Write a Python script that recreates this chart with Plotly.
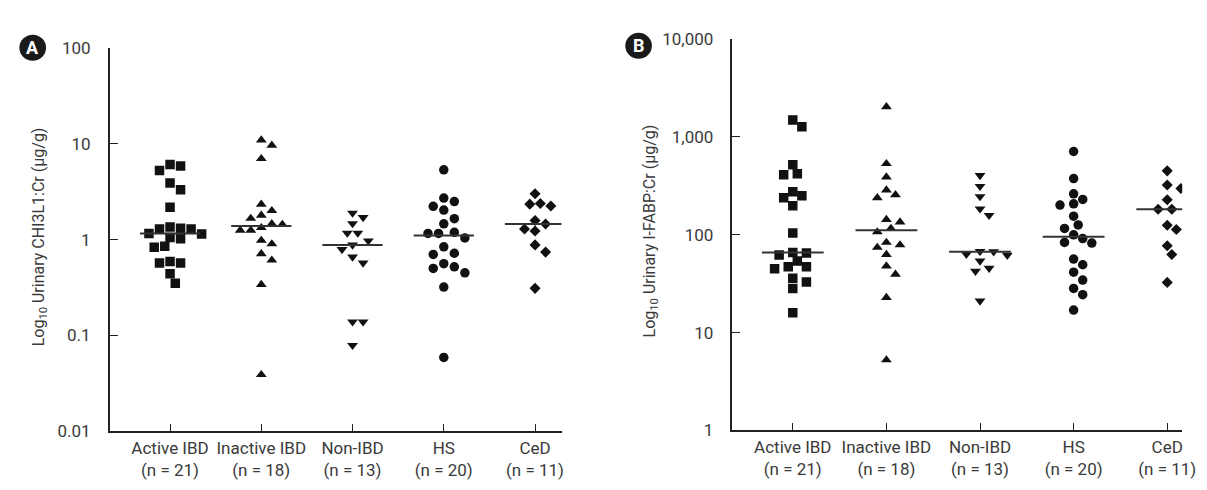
import math
import plotly.graph_objects as go

# ---------------- data ----------------
categories = ["Active IBD", "Inactive IBD", "Non-IBD", "HS", "CeD"]
group_n = [21, 18, 13, 20, 11]

# Panel A: urinary CHI3L1:Cr (ug/g)
chi3l1_active = [5.85, 6.07, 5.25, 3.89, 3.31, 2.17, 1.31, 1.14, 1.16, 1.29, 1.29,
                 1.35, 1.02, 1.05, 0.85, 0.83, 0.57, 0.59, 0.57, 0.44, 0.35]
chi3l1_inactive = [10.9, 9.6, 6.97, 2.33, 1.79, 2.0, 1.66, 1.44, 1.46, 1.25, 1.25,
                   1.33, 0.98, 0.90, 0.71, 0.61, 0.34, 0.039]
chi3l1_nonibd = [1.89, 1.70, 1.47, 1.17, 1.17, 0.97, 0.88, 0.79, 0.66, 0.57,
                 0.139, 0.139, 0.079]
chi3l1_hs = [5.33, 2.71, 2.49, 2.22, 2.03, 1.65, 1.46, 1.19, 1.16, 1.16, 1.04,
             0.84, 0.70, 0.72, 0.52, 0.56, 0.50, 0.45, 0.32, 0.059]
chi3l1_ced = [3.0, 2.38, 2.24, 2.34, 1.45, 1.58, 1.23, 1.29, 0.88, 0.74, 0.31]

# Panel B: urinary I-FABP:Cr (ug/g)
ifabp_active = [1494, 1268, 521, 410, 420, 276, 239, 250, 198, 104, 62, 65, 66,
                54, 47, 47, 45, 33, 36, 28.3, 16.0]
ifabp_inactive = [2032, 533, 389, 286, 239, 256, 135, 143, 116, 107, 83.5, 78.7,
                  74.2, 62.8, 47.9, 39.4, 22.8, 5.26]
ifabp_nonibd = [404, 313, 246, 184, 158, 63.2, 61.9, 67.2, 67.7, 54, 45.5, 42.5, 21.1]
ifabp_hs = [710, 375, 262, 201, 207, 230, 155, 126, 116, 100, 82.2, 83.5, 91.4,
            56.5, 49.4, 41.5, 34.4, 28.3, 24.4, 17.0]
ifabp_ced = [450, 323, 297, 228, 182, 182, 125, 113, 77.4, 62.8, 32.6]

tick_vals_a = [0.01, 0.1, 1, 10, 100]
tick_text_a = ["0.01", "0.1", "1", "10", "100"]
tick_vals_b = [1, 10, 100, 1000, 10000]
tick_text_b = ["1", "10", "100", "1,000", "10,000"]

ytitle_a = "Log<sub>10</sub> Urinary CHI3L1:Cr (µg/g)"
ytitle_b = "Log<sub>10</sub> Urinary I-FABP:Cr (µg/g)"

panel_a = [chi3l1_active, chi3l1_inactive, chi3l1_nonibd, chi3l1_hs, chi3l1_ced]
panel_b = [ifabp_active, ifabp_inactive, ifabp_nonibd, ifabp_hs, ifabp_ced]

# ---------------- layout / style ----------------
W, H = 1207, 490
FONT = "Roboto"
TXT = "#3a3a3a"
INK = "#111111"
symbols = ["square", "triangle-up", "triangle-down", "circle", "diamond"]
sizes = [9.5, 9.5, 9.5, 9.5, 8.5]

# plot areas in pixels: left, right, top, bottom
box_a = (103, 560, 31, 431)
box_b = (733, 1188, 22, 430)
xr_a = [-0.66, 4.29]
xr_b = [-0.644, 4.16]
yr_a = [-2, 2]
yr_b = [0, 4]


def domains(box):
    l, r, t, b = box
    return [l / W, r / W], [(H - b) / H, (H - t) / H]


def median(v):
    s = sorted(v)
    n = len(s)
    return s[n // 2] if n % 2 else 0.5 * (s[n // 2 - 1] + s[n // 2])


def swarm(values, px_cat, px_dec, diam, step):
    """Simple beeswarm: returns x offsets (category units)."""
    order = sorted(range(len(values)), key=lambda i: -values[i])
    placed = []
    offs = [0.0] * len(values)
    cands = [0.0]
    for k in range(1, 12):
        cands += [k * step, -k * step]
    for i in order:
        y = math.log10(values[i]) * px_dec
        chosen = cands[-1]
        for c in cands:
            if all((c - px) ** 2 + (y - py) ** 2 >= diam ** 2 for px, py in placed):
                chosen = c
                break
        placed.append((chosen, y))
        offs[i] = chosen / px_cat
    return offs


fig = go.Figure()

panels = [
    (panel_a, box_a, xr_a, yr_a, "x", "y", 5.33, 10.5),
    (panel_b, box_b, xr_b, yr_b, "x2", "y2", 4.6, 10.0),
]

for data, box, xr, yr, xa, ya, step, diam in panels:
    px_cat = (box[1] - box[0]) / (xr[1] - xr[0])
    px_dec = (box[3] - box[2]) / (yr[1] - yr[0])
    mx, my = [], []
    for gi, vals in enumerate(data):
        offs = swarm(vals, px_cat, px_dec, diam, step)
        fig.add_trace(go.Scatter(
            x=[gi + o for o in offs], y=vals, mode="markers",
            marker=dict(symbol=symbols[gi], size=sizes[gi], color=INK,
                        line=dict(width=0)),
            xaxis=xa, yaxis=ya, showlegend=False, hoverinfo="y"))
        m = median(vals)
        mx += [gi - 0.33, gi + 0.33, None]
        my += [m, m, None]
    fig.add_trace(go.Scatter(x=mx, y=my, mode="lines",
                             line=dict(color="#333333", width=2),
                             xaxis=xa, yaxis=ya, showlegend=False,
                             hoverinfo="skip"))

cat_text = [f"{c}<br>(n = {n})" for c, n in zip(categories, group_n)]

dxa, dya = domains(box_a)
dxb, dyb = domains(box_b)

axis_common = dict(showgrid=False, zeroline=False, showline=True,
                   linecolor="#222222", linewidth=1.5, ticks="inside",
                   ticklen=8, tickwidth=1.2, tickcolor="#222222",
                   tickfont=dict(family=FONT, size=17, color=TXT))

fig.update_layout(
    width=W, height=H, margin=dict(l=0, r=0, t=0, b=0),
    paper_bgcolor="white", plot_bgcolor="white",
    xaxis=dict(domain=dxa, range=xr_a, tickvals=list(range(5)),
               ticktext=cat_text, anchor="y", **axis_common),
    yaxis=dict(domain=dya, type="log", range=yr_a, tickvals=tick_vals_a,
               ticktext=tick_text_a, anchor="x", ticklabelstandoff=14,
               **axis_common),
    xaxis2=dict(domain=dxb, range=xr_b, tickvals=list(range(5)),
                ticktext=cat_text, anchor="y2", **axis_common),
    yaxis2=dict(domain=dyb, type="log", range=yr_b, tickvals=tick_vals_b,
                ticktext=tick_text_b, anchor="x2", ticklabelstandoff=14,
                **axis_common),
)

# y-axis titles as rotated annotations
fig.add_annotation(x=32 / W, y=(H - 228) / H, xref="paper", yref="paper",
                   xanchor="center", yanchor="middle",
                   text=ytitle_a, textangle=-90, showarrow=False,
                   font=dict(family=FONT, size=16, color=TXT))
fig.add_annotation(x=650 / W, y=(H - 222) / H, xref="paper", yref="paper",
                   xanchor="center", yanchor="middle",
                   text=ytitle_b, textangle=-90, showarrow=False,
                   font=dict(family=FONT, size=16, color=TXT))

# panel badges
for label, cx, cy in [("A", 25, 31), ("B", 638, 29)]:
    r = 13.5
    fig.add_shape(type="circle", xref="paper", yref="paper", layer="below",
                  x0=(cx - r) / W, x1=(cx + r) / W,
                  y0=(H - cy - r) / H, y1=(H - cy + r) / H,
                  fillcolor="#1a1a1a", line=dict(width=0))
    fig.add_annotation(x=cx / W, y=(H - cy) / H, xref="paper", yref="paper",
                       xanchor="center", yanchor="middle",
                       text=f"<b>{label}</b>", showarrow=False,
                       font=dict(family=FONT, size=18, color="white"))

fig.write_html("out.html")
